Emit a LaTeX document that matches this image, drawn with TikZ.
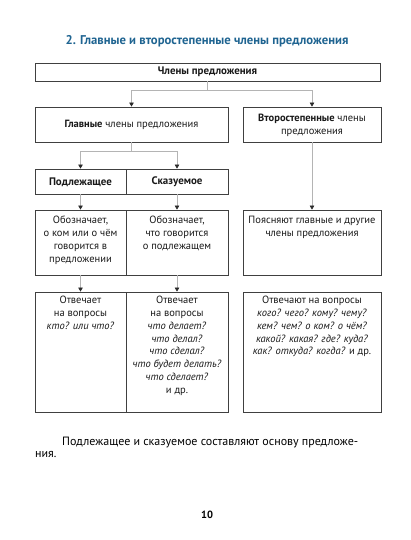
\documentclass[tikz,border=0pt]{standalone}
\usepackage{fontspec}
\setmainfont{PT Sans}
\usetikzlibrary{arrows.meta}
\definecolor{titleblue}{HTML}{1F6491}
\definecolor{boxline}{HTML}{404040}
\definecolor{conn}{HTML}{B4B4B4}
\definecolor{tip}{HTML}{2A2A2A}
\begin{document}
\begin{tikzpicture}[x=1pt,y=-1pt,
  box/.style={draw=boxline,line width=0.8pt,rectangle,inner sep=0pt,anchor=center},
  txt/.style={align=center,font=\fontsize{10.5}{12.8}\selectfont,inner sep=0pt,text=black!90},
  head/.style={txt,font=\fontsize{10.9}{12.8}\selectfont\bfseries},
  conline/.style={draw=conn,line width=0.6pt},
  arr/.style={conline,-{Triangle[width=4.5pt,length=4pt,color=tip]}}
]
\useasboundingbox (0,0) rectangle (411,540);
% title
\node[font=\fontsize{12.7}{15}\selectfont\bfseries,text=titleblue,inner sep=0pt] (title) at (207,41) {2. Главные и второстепенные члены предложения};
% boxes
\node[box,minimum width=345pt,minimum height=18pt] (top) at (207.5,72) {};
\node[head] (toptxt) at (207.5,72) {Члены предложения};
\node[box,minimum width=193pt,minimum height=35pt] (glav) at (131.5,124.5) {};
\node[txt] (glavtxt) at (131.5,125) {\textbf{Главные} члены предложения};
\node[box,minimum width=138pt,minimum height=35pt] (vtor) at (312,124.5) {};
\node[txt] (vtortxt) at (312,125) {\textbf{Второстепенные} члены\\предложения};
\node[box,minimum width=91pt,minimum height=25pt] (podl) at (80.5,181.5) {};
\node[head] (podltxt) at (80.5,182) {Подлежащее};
\node[box,minimum width=102pt,minimum height=25pt] (skaz) at (177,181.5) {};
\node[head] (skaztxt) at (177,182) {Сказуемое};
% descriptions
\node[box,minimum width=91pt,minimum height=65pt] (d1) at (80.5,242.5) {};
\node[txt,anchor=north] (d1txt) at (80.5,216) {Обозначает,\\о ком или о чём\\говорится в\\предложении};
\node[box,minimum width=102pt,minimum height=65pt] (d2) at (177,242.5) {};
\node[txt,anchor=north] (d2txt) at (177,216) {Обозначает,\\что говорится\\о подлежащем};
\node[box,minimum width=138pt,minimum height=65pt] (d3) at (312,242.5) {};
\node[txt,anchor=north] (d3txt) at (312,216) {Поясняют главные и другие\\члены предложения};
% questions
\node[box,minimum width=91pt,minimum height=120pt] (q1) at (80.5,352) {};
\node[txt,anchor=north] (q1txt) at (80.5,296) {Отвечает\\на вопросы\\\textit{кто? или что?}};
\node[box,minimum width=102pt,minimum height=120pt] (q2) at (177,352) {};
\node[txt,anchor=north] (q2txt) at (177,296) {Отвечает\\на вопросы\\\textit{что делает?}\\\textit{что делал?}\\\textit{что сделал?}\\\textit{что будет делать?}\\\textit{что сделает?}\\и др.};
\node[box,minimum width=138pt,minimum height=120pt] (q3) at (312,352) {};
\node[txt,anchor=north] (q3txt) at (312,296) {Отвечают на вопросы\\\textit{кого? чего? кому? чему?}\\\textit{кем? чем? о ком? о чём?}\\\textit{какой? какая? где? куда?}\\\textit{как? откуда? когда?} и др.};
% connectors
\coordinate (j1) at (207.5,90);
\coordinate (j2) at (131.5,151);
\draw[conline] (top.south) -- (j1);
\draw[arr] (j1) -| (glav.north);
\draw[arr] (j1) -| (vtor.north);
\draw[conline] (glav.south) -- (j2);
\draw[arr] (j2) -| (podl.north);
\draw[arr] (j2) -| (skaz.north);
\draw[arr] (podl.south) -- (d1.north);
\draw[arr] (skaz.south) -- (d2.north);
\draw[arr] (vtor.south) -- (d3.north);
\draw[arr] (d1.south) -- (q1.north);
\draw[arr] (d2.south) -- (q2.north);
% bottom text
\node[font=\fontsize{12}{13}\selectfont,anchor=base west,inner sep=0pt,text=black] (p1) at (62,445) {Подлежащее и сказуемое составляют основу предложе-};
\node[font=\fontsize{12}{13}\selectfont,anchor=base west,inner sep=0pt,text=black] (p2) at (35,457.5) {ния.};
\node[font=\fontsize{10.5}{12}\selectfont\bfseries,inner sep=0pt] (pg) at (207,515) {10};
\end{tikzpicture}
\end{document}
